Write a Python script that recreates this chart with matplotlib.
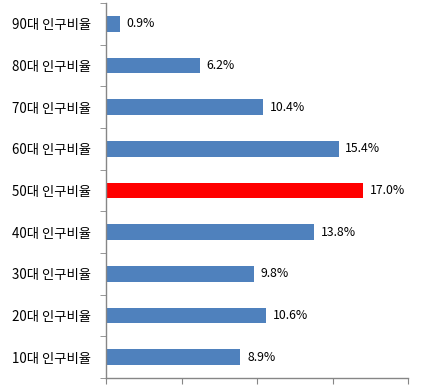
import matplotlib.pyplot as plt
import numpy as np

plt.rcParams['font.family'] = ['Noto Sans CJK KR', 'DejaVu Sans']

categories = ['10대 인구비율', '20대 인구비율', '30대 인구비율', '40대 인구비율', '50대 인구비율',
              '60대 인구비율', '70대 인구비율', '80대 인구비율', '90대 인구비율']
values = [8.9, 10.6, 9.8, 13.8, 17.0, 15.4, 10.4, 6.2, 0.9]
highlight = '50대 인구비율'

blue = '#4F81BD'
red = '#FF0000'
gray = '#868686'

fig = plt.figure(figsize=(4.22, 3.88), dpi=100)
ax = fig.add_axes([106 / 422, 10 / 388, (408 - 106) / 422, (378 - 3) / 388])

y = np.arange(len(categories))
colors = [red if c == highlight else blue for c in categories]
ax.barh(y, values, height=0.38, color=colors)

for yi, v in zip(y, values):
    ax.text(v + 0.45, yi, f'{v:.1f}%', va='center', ha='left', fontsize=8.8)

ax.set_xlim(0, 20)
ax.set_ylim(-0.5, len(categories) - 0.5)
ax.set_xticks([0, 5, 10, 15, 20])
ax.set_xticklabels([])
ax.set_yticks(y)
ax.set_yticklabels(categories, fontsize=9.6)
ax.set_yticks(np.arange(-0.5, len(categories)), minor=True)
ax.tick_params(axis='y', which='major', length=0, pad=11)
ax.tick_params(axis='y', which='minor', length=4, color=gray, direction='out')
ax.tick_params(axis='x', length=4, color=gray, direction='out')

for s in ['top', 'right']:
    ax.spines[s].set_visible(False)
for s in ['left', 'bottom']:
    ax.spines[s].set_color(gray)
    ax.spines[s].set_linewidth(1)

fig.savefig('out.png', dpi=100)
